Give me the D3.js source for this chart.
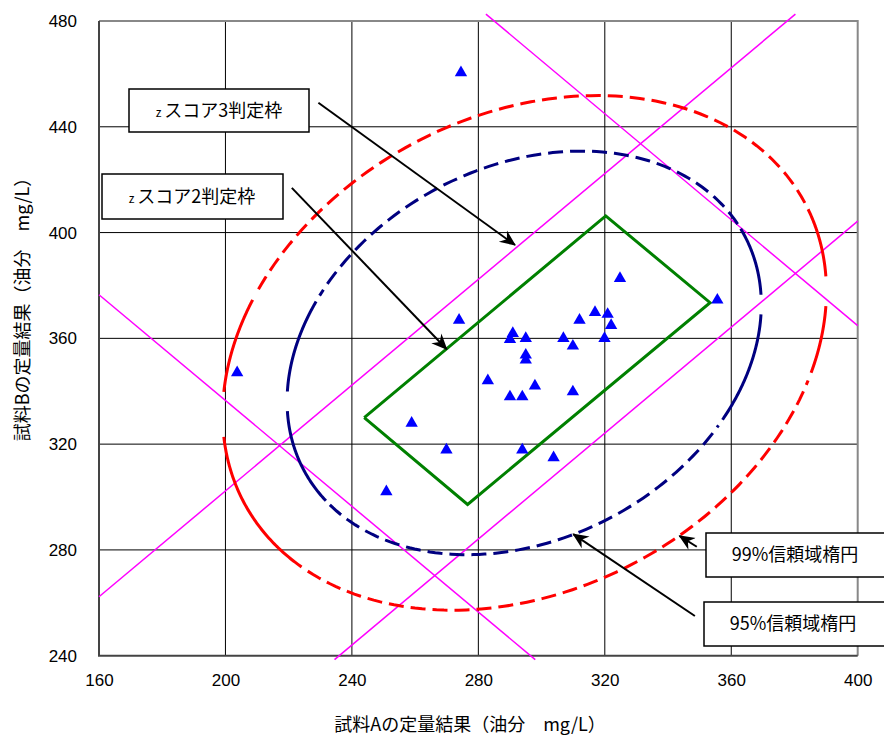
<!DOCTYPE html>
<html>
<head>
<meta charset="utf-8">
<script src="https://cdn.jsdelivr.net/npm/d3@7"></script>
<style>
  body { margin: 0; background: #fff; }
  svg { display: block; }
  .tick text { font-family: "Liberation Sans", Arial, sans-serif; font-size: 17px; fill: #000; }
  .jp { font-family: "Noto Sans CJK JP", sans-serif; fill: #000; }
</style>
</head>
<body>
<div id="chart"></div>
<script>
// tick labels
var xTicks = [160, 200, 240, 280, 320, 360, 400];
var yTicks = [240, 280, 320, 360, 400, 440, 480];

// 試料A / 試料B の結果 (mg/L)
var sampleA = [274.5, 203.7, 355.6, 324.8, 273.9, 290.9, 290.0, 295.0, 295.0, 295.0,
               306.9, 309.9, 312.0, 316.9, 320.9, 322.0, 319.9, 283.0, 290.0, 293.9,
               297.9, 309.9, 258.9, 269.9, 293.9, 303.8, 250.9];
var sampleB = [460.5, 347.0, 374.5, 382.7, 366.9, 361.9, 359.6, 360.0, 353.7, 351.8,
               360.0, 357.1, 366.9, 369.8, 369.1, 364.9, 360.0, 344.0, 337.9, 337.9,
               342.0, 339.8, 327.9, 317.8, 317.8, 314.9, 302.0];

// zスコア2判定枠 (corners, A / B)
var frameA = [243.9, 320.3, 353.3, 276.6, 243.9];
var frameB = [330.0, 406.3, 373.5, 297.2, 330.0];

// zスコア3判定枠 lines (start A, start B, end A, end B)
var z3Lines = [
  [160.0, 262.3, 380.3, 482.6],
  [234.5, 238.5, 400.0, 404.3],
  [160.0, 376.5, 298.0, 238.5],
  [282.4, 482.6, 400.0, 364.8]
];

// confidence ellipses: centre A, centre B, half-width A, half-width B, correlation
var ellipse99 = [294.6, 354.5, 95.5, 97.3, 0.24];
var ellipse95 = [294.5, 354.5, 75.0, 76.3, 0.24];

var labels = {
  xTitle: "試料Aの定量結果（油分　mg/L）",
  yTitle: "試料Bの定量結果（油分　mg/L）",
  z3: "スコア3判定枠",
  z2: "スコア2判定枠",
  c99: "99%信頼域楕円",
  c95: "95%信頼域楕円"
};

var W = 884, H = 735;
var pLeft = 99, pRight = 857.7, pTop = 21, pBottom = 655.7;

var svg = d3.select("#chart").append("svg")
    .attr("width", W)
    .attr("height", H);

var x = d3.scaleLinear().domain([160, 400]).range([pLeft, pRight]);
var y = d3.scaleLinear().domain([240, 480]).range([pBottom, pTop]);

// grid
svg.append("g").selectAll("line")
    .data(xTicks.slice(1, -1))
  .enter().append("line")
    .attr("x1", function(d) { return x(d); })
    .attr("x2", function(d) { return x(d); })
    .attr("y1", pTop).attr("y2", pBottom)
    .attr("stroke", "#000").attr("stroke-width", 1);

svg.append("g").selectAll("line")
    .data(yTicks.slice(1, -1))
  .enter().append("line")
    .attr("y1", function(d) { return y(d); })
    .attr("y2", function(d) { return y(d); })
    .attr("x1", pLeft).attr("x2", pRight)
    .attr("stroke", "#000").attr("stroke-width", 1);

// plot frame
svg.append("path")
    .attr("d", "M" + pLeft + "," + pTop + "H" + pRight + "V" + pBottom)
    .attr("fill", "none").attr("stroke", "#888").attr("stroke-width", 2);
svg.append("path")
    .attr("d", "M" + pLeft + "," + pTop + "V" + pBottom + "H" + pRight)
    .attr("fill", "none").attr("stroke", "#444").attr("stroke-width", 2);

// axes (labels only)
var yAxis = svg.append("g")
    .attr("transform", "translate(" + pLeft + ",0)")
    .call(d3.axisLeft(y).tickValues(yTicks).tickSize(0).tickPadding(22));
yAxis.select(".domain").remove();

var xAxis = svg.append("g")
    .attr("transform", "translate(0," + pBottom + ")")
    .call(d3.axisBottom(x).tickValues(xTicks).tickSize(0).tickPadding(18));
xAxis.select(".domain").remove();

// axis titles
svg.append("text")
    .attr("class", "jp")
    .attr("x", 470).attr("y", 731)
    .attr("text-anchor", "middle")
    .style("font-size", "18px")
    .text(labels.xTitle);

svg.append("text")
    .attr("class", "jp")
    .attr("transform", "translate(29,305) rotate(-90)")
    .attr("text-anchor", "middle")
    .style("font-size", "18px")
    .text(labels.yTitle);

// z score 3 lines
svg.append("g").selectAll("line")
    .data(z3Lines)
  .enter().append("line")
    .attr("x1", function(d) { return x(d[0]); })
    .attr("y1", function(d) { return y(d[1]); })
    .attr("x2", function(d) { return x(d[2]); })
    .attr("y2", function(d) { return y(d[3]); })
    .attr("stroke", "#FF00FF").attr("stroke-width", 1.5);

// ellipses
var line = d3.line()
    .x(function(d) { return x(d[0]); })
    .y(function(d) { return y(d[1]); });

function arc(e, t0, t1) {
  var pts = [], n = 80;
  var s = Math.sqrt(1 - e[4] * e[4]);
  for (var i = 0; i <= n; i++) {
    var t = t0 + (t1 - t0) * i / n;
    pts.push([e[0] + e[2] * Math.cos(t), e[1] + e[3] * (e[4] * Math.cos(t) + s * Math.sin(t))]);
  }
  return pts;
}

var PI = Math.PI;
// pieces: [t0, t1, dashed]
var pieces99 = [
  [PI - 0.45, PI - 0.09, false], [PI + 0.09, PI + 0.74, false],
  [PI + 0.77, 2 * PI - 0.35, true],
  [-0.32, -0.06, false], [0.06, 0.35, false],
  [0.38, PI - 0.48, true]
];
var pieces95 = [
  [PI - 0.5, PI - 0.05, false], [PI + 0.05, PI + 0.58, false],
  [PI + 0.61, 2 * PI - 0.61, true],
  [-0.58, -0.05, false], [0.05, 0.42, false],
  [0.45, PI - 0.53, true]
];

function drawEllipse(e, pieces, color) {
  svg.append("g").selectAll("path")
      .data(pieces)
    .enter().append("path")
      .attr("d", function(p) { return line(arc(e, p[0], p[1])); })
      .attr("fill", "none")
      .attr("stroke", color)
      .attr("stroke-width", 3)
      .attr("stroke-dasharray", function(p) { return p[2] ? "15,7" : null; });
}
drawEllipse(ellipse99, pieces99, "#FF0000");
drawEllipse(ellipse95, pieces95, "#000080");

// z score 2 frame
svg.append("path")
    .datum(d3.zip(frameA, frameB))
    .attr("d", line)
    .attr("fill", "none")
    .attr("stroke", "#008000")
    .attr("stroke-width", 3);

// points
svg.append("g").selectAll("path")
    .data(d3.zip(sampleA, sampleB))
  .enter().append("path")
    .attr("d", d3.symbol().type(d3.symbolTriangle).size(66))
    .attr("transform", function(d) { return "translate(" + x(d[0]) + "," + y(d[1]) + ")"; })
    .attr("fill", "#0000FF");

// arrows
svg.append("defs").append("marker")
    .attr("id", "arr")
    .attr("viewBox", "0 -8 16 16")
    .attr("refX", 15).attr("refY", 0)
    .attr("markerWidth", 16).attr("markerHeight", 16)
    .attr("markerUnits", "userSpaceOnUse")
    .attr("orient", "auto")
  .append("path")
    .attr("d", "M0,-7L16,0L0,7L5,0Z")
    .attr("fill", "#000");

var arrows = [
  [229.4, 449.1, 291.6, 395.3],
  [221.0, 416.9, 270.0, 355.9],
  [348.5, 255.0, 310.0, 286.0],
  [349.1, 281.2, 343.6, 285.3]
];
svg.append("g").selectAll("line")
    .data(arrows)
  .enter().append("line")
    .attr("x1", function(d) { return x(d[0]); })
    .attr("y1", function(d) { return y(d[1]); })
    .attr("x2", function(d) { return x(d[2]); })
    .attr("y2", function(d) { return y(d[3]); })
    .attr("stroke", "#000").attr("stroke-width", 2)
    .attr("marker-end", "url(#arr)");

// label boxes
var boxes = [
  {x: 129, y: 89, w: 180, h: 43, z: true, text: labels.z3},
  {x: 102, y: 174, w: 181, h: 45, z: true, text: labels.z2},
  {x: 706, y: 533, w: 190, h: 44, z: false, text: labels.c99},
  {x: 704, y: 602, w: 190, h: 44, z: false, text: labels.c95}
];

var box = svg.append("g").selectAll("g")
    .data(boxes)
  .enter().append("g");

box.append("rect")
    .attr("x", function(d) { return d.x; })
    .attr("y", function(d) { return d.y; })
    .attr("width", function(d) { return d.w; })
    .attr("height", function(d) { return d.h; })
    .attr("fill", "#fff")
    .attr("stroke", "#000")
    .attr("stroke-width", 1.5);

var bt = box.append("text")
    .attr("class", "jp")
    .attr("x", function(d) { return d.z ? d.x + 90 : d.x + 89; })
    .attr("y", function(d) { return d.y + d.h / 2 + 6; })
    .attr("text-anchor", "middle")
    .style("font-size", "18px");
bt.filter(function(d) { return d.z; })
  .append("tspan")
    .style("font-size", "12px")
    .text("z");
bt.append("tspan")
    .attr("dx", function(d) { return d.z ? 3 : 0; })
    .text(function(d) { return d.text; });
</script>
</body>
</html>
